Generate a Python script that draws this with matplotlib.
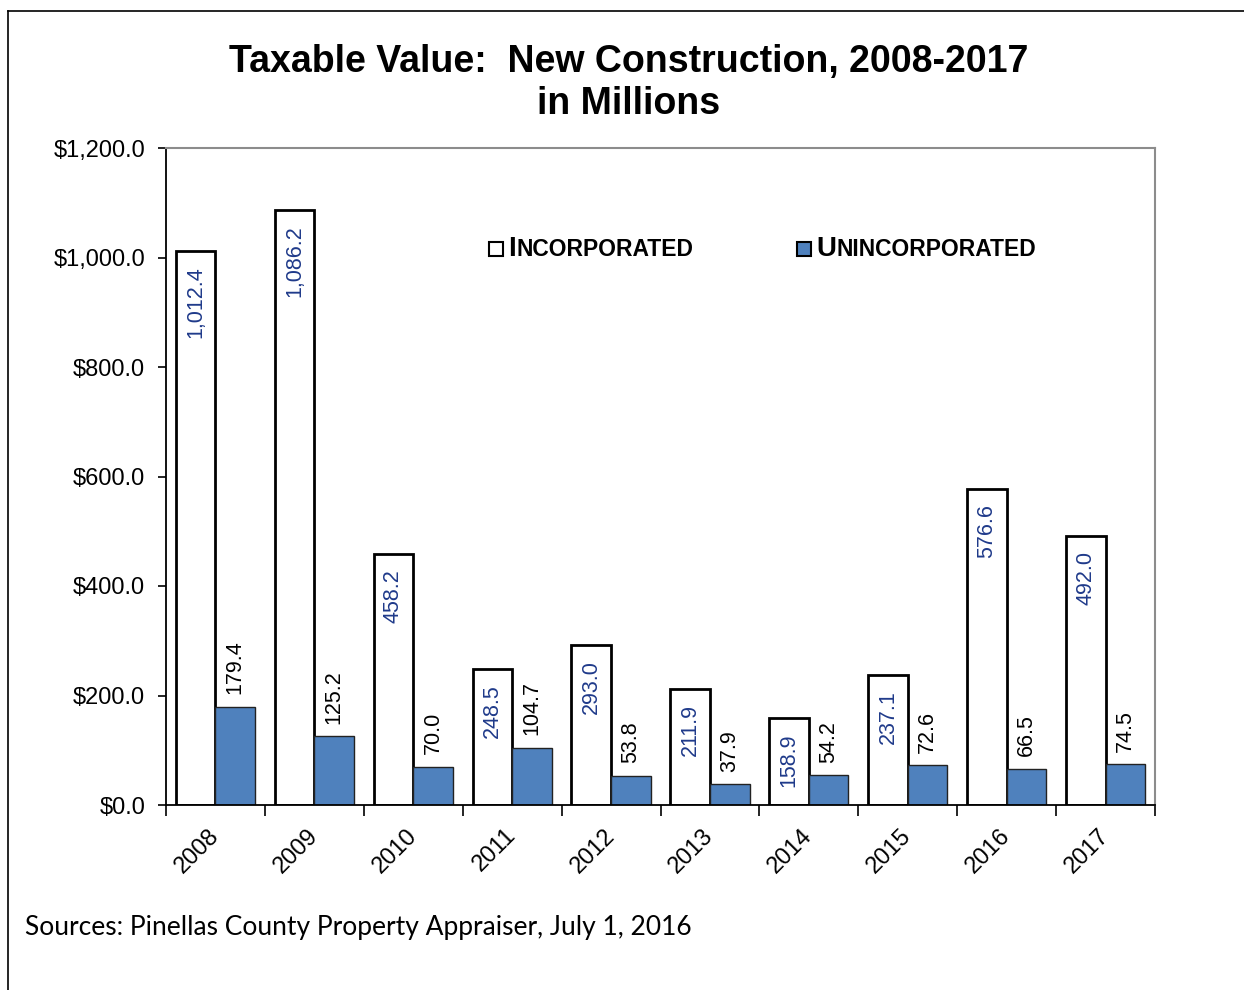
import matplotlib
matplotlib.use("Agg")
import matplotlib.pyplot as plt
import matplotlib.transforms as mtransforms
import numpy as np
from matplotlib.offsetbox import HPacker, TextArea, DrawingArea, AnchoredOffsetbox
from matplotlib.patches import Rectangle
from matplotlib.lines import Line2D

# data (millions of dollars)
years = ["2008", "2009", "2010", "2011", "2012", "2013", "2014", "2015", "2016", "2017"]
incorporated = [1012.4, 1086.2, 458.2, 248.5, 293.0, 211.9, 158.9, 237.1, 576.6, 492.0]
unincorporated = [179.4, 125.2, 70.0, 104.7, 53.8, 37.9, 54.2, 72.6, 66.5, 74.5]
y_ticks = [0, 200, 400, 600, 800, 1000, 1200]

blue = "#4F81BD"
label_blue = "#1F3A8A"
plt.rcParams['font.family'] = ['Liberation Sans', 'DejaVu Sans']

fig = plt.figure(figsize=(12.44, 9.90), dpi=100)
ax = fig.add_axes([166/1244, 1-805/990, (1155-166)/1244, (805-148)/990])

x = np.arange(len(years))
w = 0.4
ax.bar(x - w/2, incorporated, w, color="white", edgecolor="black", linewidth=2, zorder=2)
ax.bar(x + w/2, unincorporated, w, color=blue, edgecolor="#222222", linewidth=1, zorder=2)

# value labels
for xi, v in zip(x, incorporated):
    ax.annotate(f"{v:,.1f}", (xi - w/2, v), xytext=(0, -11), textcoords="offset points",
                rotation=90, ha="center", va="top", fontsize=15.5, color=label_blue)
for xi, v in zip(x, unincorporated):
    ax.annotate(f"{v:,.1f}", (xi + w/2, v), xytext=(0, 9), textcoords="offset points",
                rotation=90, ha="center", va="bottom", fontsize=15.5, color="black")

ax.set_xlim(-0.5, len(years) - 0.5)
ax.set_ylim(0, 1200)
ax.set_yticks(y_ticks)
ax.set_yticklabels([f"${t:,.1f}" for t in y_ticks], fontsize=17)
ax.tick_params(axis="y", direction="out", length=6, width=1.2, pad=9)

ax.set_xticks(x)
ax.set_xticklabels(years, rotation=45, ha="right", fontsize=17)
ax.tick_params(axis="x", which="major", length=0, pad=14)
ax.set_xticks(np.arange(-0.5, len(years)), minor=True)
ax.tick_params(axis="x", which="minor", direction="out", length=8, width=1.2)
shift = mtransforms.ScaledTranslation(8/100, 0, fig.dpi_scale_trans)
for lab in ax.get_xticklabels():
    lab.set_transform(lab.get_transform() + shift)

for s in ["left", "bottom"]:
    ax.spines[s].set_color("black")
    ax.spines[s].set_linewidth(1.3)
for s in ["top", "right"]:
    ax.spines[s].set_color("#8C8C8C")
    ax.spines[s].set_linewidth(1.5)

# legend with small-caps look
def legend_item(face, big, small):
    da = DrawingArea(10, 10, 0, 0)
    da.add_artist(Rectangle((0, 0), 10, 10, facecolor=face, edgecolor="black", linewidth=1.5))
    t1 = TextArea(big, textprops=dict(fontsize=20, fontweight="bold"))
    t2 = TextArea(small, textprops=dict(fontsize=16.5, fontweight="bold"))
    return HPacker(children=[da, HPacker(children=[t1, t2], align="baseline", pad=0, sep=0)],
                   align="baseline", pad=0, sep=4)

for face, big, small, xpos in [("white", "I", "NCORPORATED", 489), (blue, "U", "NINCORPORATED", 797)]:
    box = AnchoredOffsetbox(loc="lower left", child=legend_item(face, big, small), frameon=False,
                            bbox_to_anchor=(xpos/1244, 1-262/990), bbox_transform=fig.transFigure,
                            pad=0, borderpad=0)
    fig.add_artist(box)

# title
fig.text(0.505, 1-62/990, "Taxable Value:  New Construction, 2008-2017", ha="center", va="center",
         fontsize=27, fontweight="bold")
fig.text(0.505, 1-104/990, "in Millions", ha="center", va="center", fontsize=27, fontweight="bold")

# source note
fig.text(25/1244, 1-928/990, "Sources: Pinellas County Property Appraiser, July 1, 2016", ha="left",
         va="center", fontsize=19, family=["Lato", "DejaVu Sans"])

# outer frame lines
fig.add_artist(Line2D([8/1244, 1], [1-11/990, 1-11/990], transform=fig.transFigure, color="black", linewidth=1.2))
fig.add_artist(Line2D([8/1244, 8/1244], [0, 1-11/990], transform=fig.transFigure, color="black", linewidth=1.2))

fig.savefig("out.png", dpi=100)
